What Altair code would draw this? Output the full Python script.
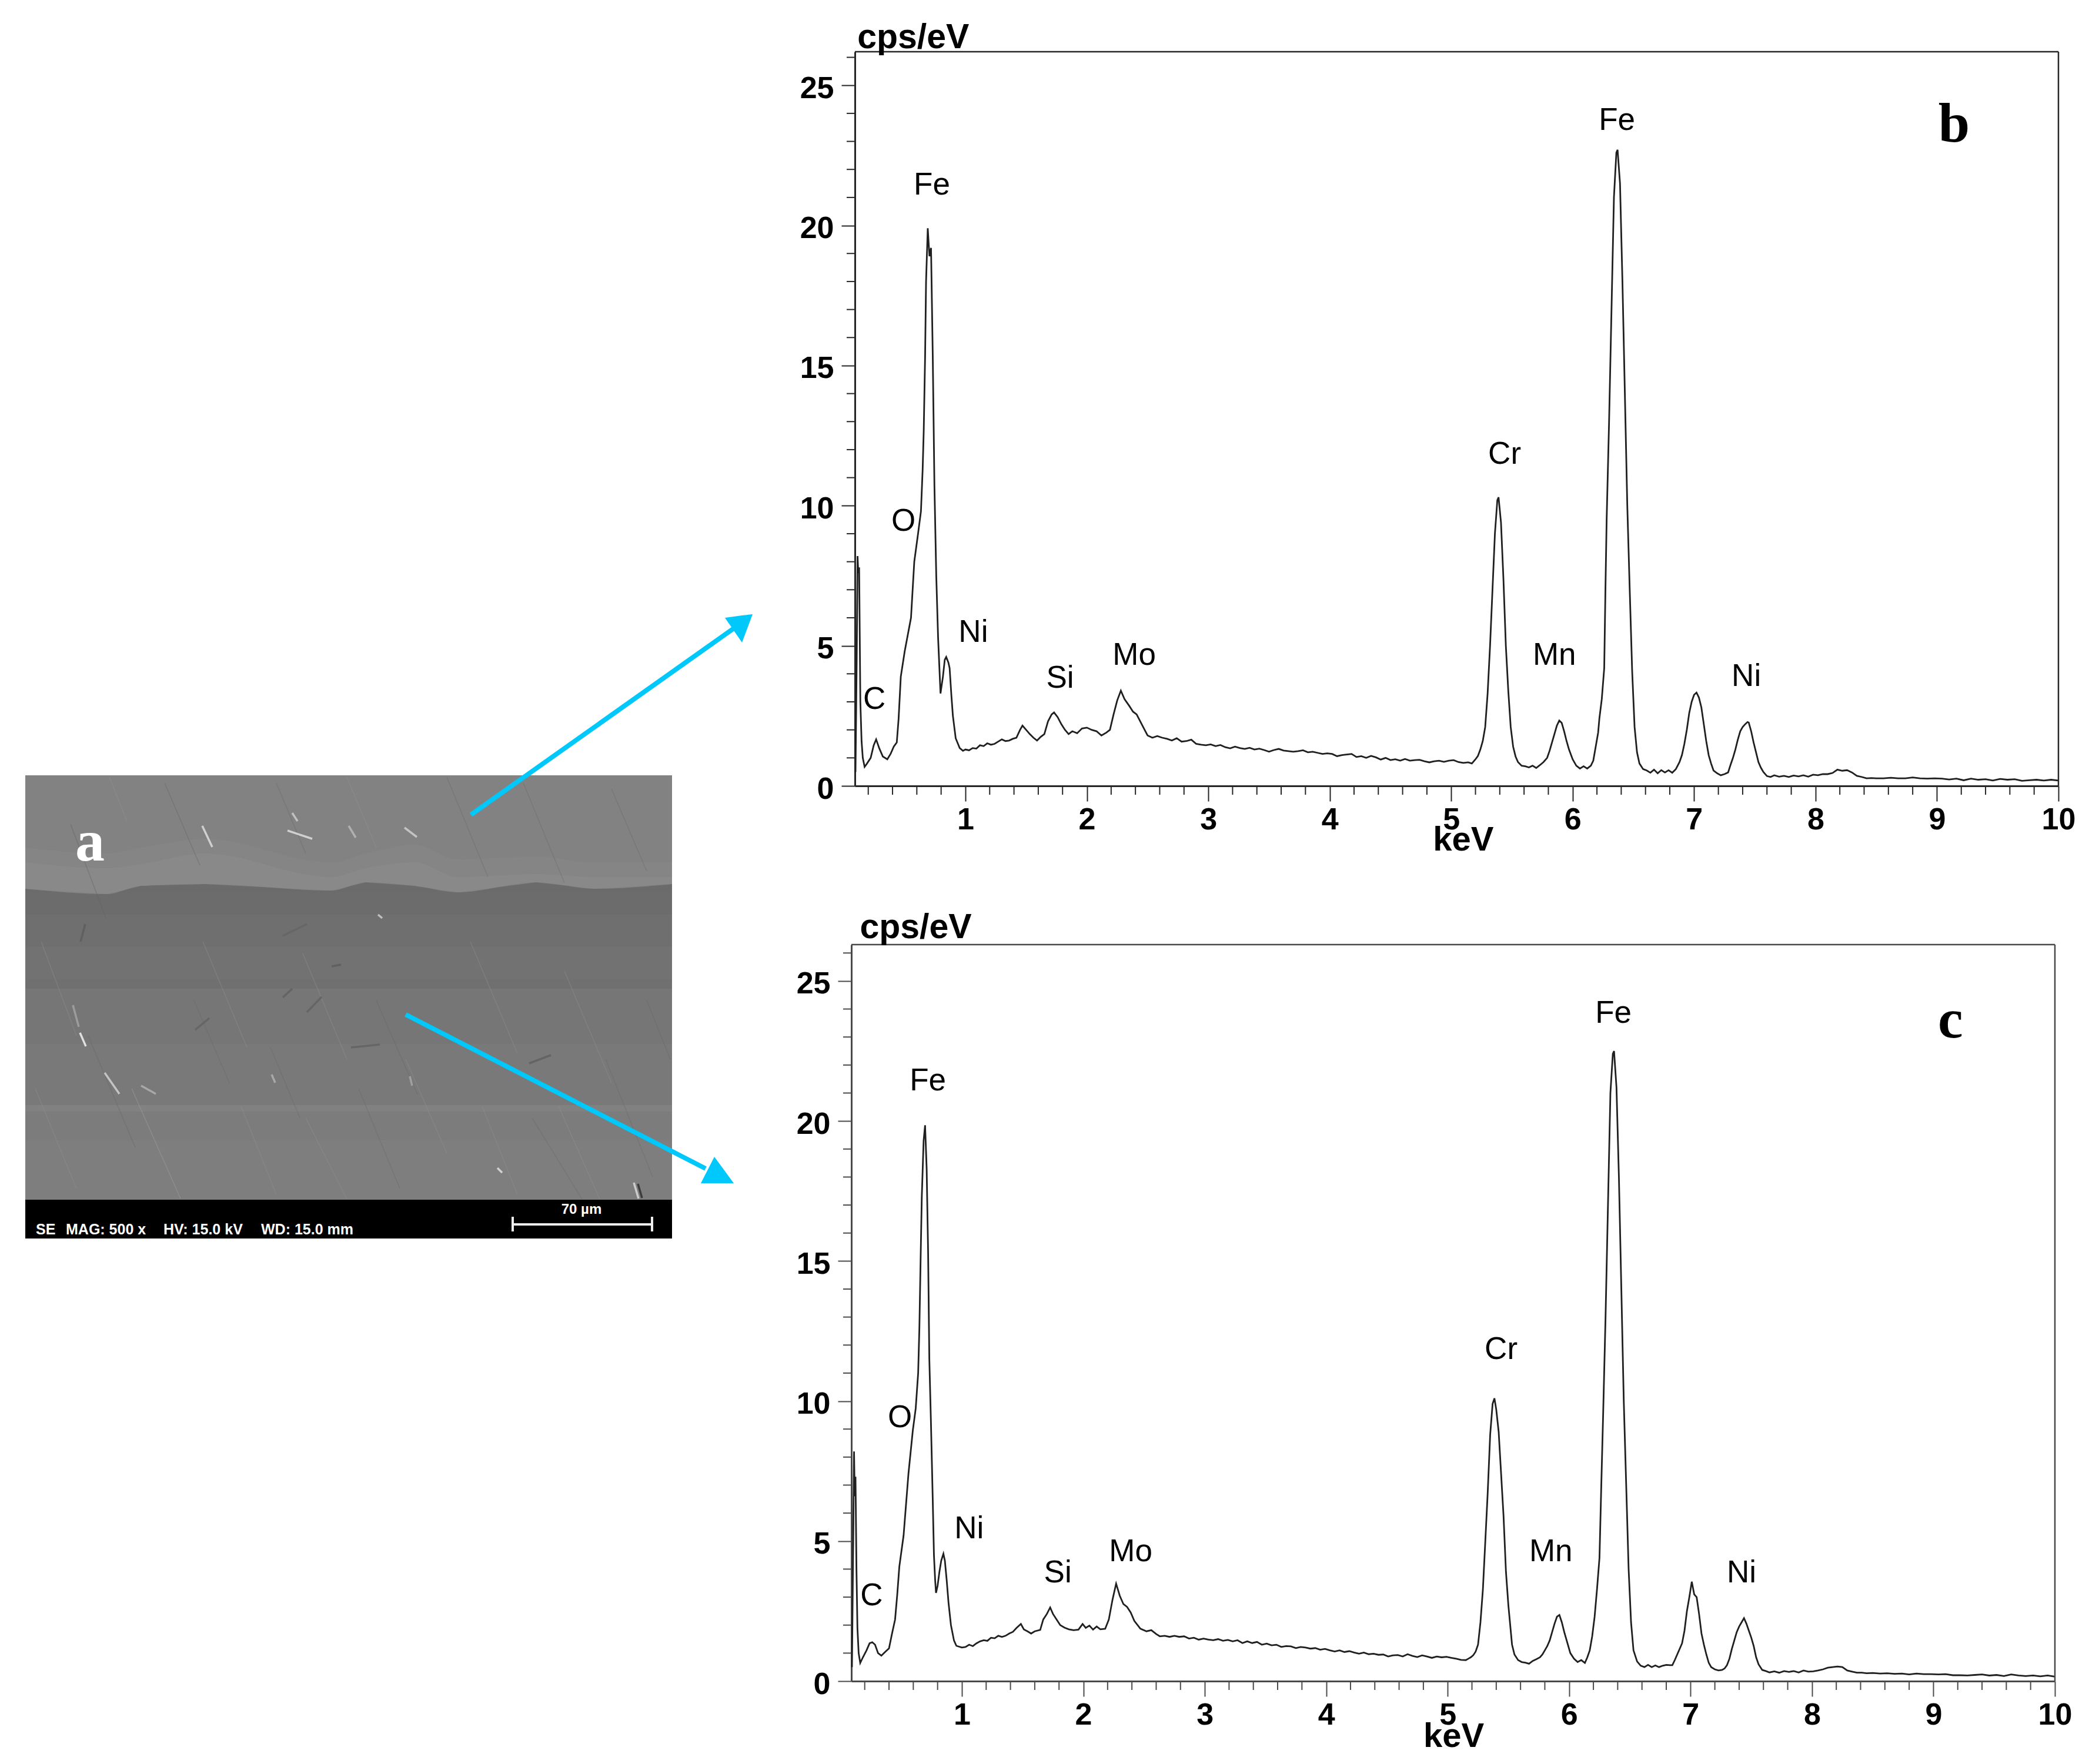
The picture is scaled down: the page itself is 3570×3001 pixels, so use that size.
import altair as alt
import pandas as pd

# spectrum b
kev_b = [
    .095, .105, .112, .118, .125, .135, .145, .155, .17, .19,
    .22, .245, .265, .29, .32, .357, .385, .41, .435, .45,
    .468, .50, .552, .579, .61, .634, .648, .657, .668, .676,
    .69, .704, .717, .731, .745, .76, .775, .795, .815, .83,
    .842, .86, .87, .885, .897, .92, .953, .98, 1.0, 1.03,
    1.06, 1.09, 1.12, 1.15, 1.18, 1.21, 1.24, 1.27, 1.30, 1.33,
    1.36, 1.39, 1.42, 1.45, 1.47, 1.50, 1.53, 1.56, 1.59, 1.62,
    1.65, 1.68, 1.71, 1.73, 1.76, 1.79, 1.82, 1.85, 1.88, 1.92,
    1.96, 2.0, 2.04, 2.08, 2.12, 2.16, 2.19, 2.22, 2.25, 2.28,
    2.31, 2.35, 2.38, 2.41, 2.44, 2.47, 2.5, 2.54, 2.58, 2.62,
    2.66, 2.7, 2.74, 2.78, 2.82, 2.86, 2.9, 2.94, 2.98, 3.02,
    3.06, 3.1, 3.14, 3.18, 3.22, 3.26, 3.3, 3.34, 3.38, 3.42,
    3.46, 3.5, 3.54, 3.58, 3.62, 3.66, 3.7, 3.74, 3.78, 3.82,
    3.86, 3.9, 3.94, 3.98, 4.02, 4.06, 4.1, 4.14, 4.18, 4.22,
    4.26, 4.3, 4.34, 4.38, 4.42, 4.46, 4.5, 4.54, 4.58, 4.62,
    4.66, 4.7, 4.74, 4.78, 4.82, 4.86, 4.9, 4.94, 4.98, 5.02,
    5.06, 5.1, 5.14, 5.17, 5.2, 5.22, 5.24, 5.26, 5.28, 5.3,
    5.32, 5.34, 5.36, 5.38, 5.39, 5.41, 5.43, 5.45, 5.47, 5.49,
    5.51, 5.53, 5.55, 5.58, 5.61, 5.64, 5.67, 5.7, 5.73, 5.76,
    5.79, 5.81, 5.83, 5.85, 5.87, 5.89, 5.91, 5.93, 5.95, 5.97,
    6.0, 6.03, 6.06, 6.09, 6.12, 6.15, 6.17, 6.19, 6.21, 6.22,
    6.24, 6.26, 6.27, 6.28, 6.3, 6.32, 6.34, 6.36, 6.37, 6.39,
    6.41, 6.43, 6.45, 6.46, 6.47, 6.49, 6.51, 6.53, 6.55, 6.58,
    6.61, 6.64, 6.67, 6.7, 6.73, 6.76, 6.79, 6.82, 6.85, 6.88,
    6.9, 6.92, 6.94, 6.96, 6.98, 7.0, 7.02, 7.04, 7.06, 7.08,
    7.1, 7.12, 7.14, 7.16, 7.19, 7.22, 7.25, 7.28, 7.3, 7.32,
    7.34, 7.36, 7.38, 7.4, 7.42, 7.44, 7.45, 7.47, 7.49, 7.51,
    7.53, 7.55, 7.57, 7.6, 7.63, 7.66, 7.7, 7.74, 7.78, 7.82,
    7.86, 7.9, 7.94, 7.98, 8.02, 8.06, 8.1, 8.14, 8.18, 8.22,
    8.26, 8.3, 8.34, 8.38, 8.42, 8.46, 8.5, 8.56, 8.62, 8.68,
    8.74, 8.8, 8.86, 8.92, 8.98, 9.04, 9.1, 9.16, 9.22, 9.28,
    9.34, 9.4, 9.46, 9.52, 9.58, 9.64, 9.7, 9.76, 9.82, 9.88,
    9.94, 10.0,
]
cps_b = [
    .5, 4.5, 8.2, 7.6, 7.8, 3.0, 1.6, 1.0, .68, .8,
    1.0, 1.45, 1.66, 1.35, 1.05, .95, 1.15, 1.4, 1.55, 2.4,
    3.9, 4.8, 6.0, 8.0, 9.0, 9.8, 11.3, 12.7, 15.3, 18.0,
    19.9, 18.9, 19.2, 15.4, 10.7, 7.5, 5.3, 3.3, 3.9, 4.5,
    4.6, 4.4, 4.2, 3.2, 2.5, 1.7, 1.35, 1.25, 1.3, 1.27,
    1.35, 1.33, 1.45, 1.42, 1.52, 1.47, 1.5, 1.58, 1.66, 1.6,
    1.62, 1.68, 1.72, 2.0, 2.15, 2.0, 1.85, 1.72, 1.62, 1.75,
    1.85, 2.3, 2.55, 2.62, 2.45, 2.2, 2.0, 1.85, 1.95, 1.88,
    2.05, 2.08, 2.0, 1.95, 1.8, 1.9, 2.0, 2.55, 3.05, 3.4,
    3.1, 2.85, 2.65, 2.55, 2.3, 2.05, 1.8, 1.72, 1.78, 1.72,
    1.68, 1.62, 1.7, 1.58, 1.6, 1.65, 1.5, 1.47, 1.45, 1.48,
    1.42, 1.46, 1.38, 1.34, 1.4, 1.35, 1.32, 1.36, 1.3, 1.33,
    1.28, 1.22, 1.28, 1.32, 1.26, 1.24, 1.22, 1.24, 1.27, 1.2,
    1.22, 1.18, 1.14, 1.16, 1.14, 1.06, 1.1, 1.12, 1.14, 1.03,
    1.06, 1.0, 1.07, 1.02, .94, 1.0, .92, .95, .9, .96,
    .9, .92, .93, .88, .84, .88, .9, .86, .9, .92,
    .85, .82, .84, .8, .95, 1.07, 1.3, 1.6, 2.1, 3.3,
    5.0, 7.0, 9.0, 10.2, 10.3, 9.4, 7.4, 5.0, 3.4, 2.1,
    1.4, 1.05, .85, .72, .7, .66, .72, .64, .74, .85,
    1.0, 1.25, 1.55, 1.85, 2.15, 2.33, 2.25, 1.95, 1.6, 1.3,
    .95, .72, .62, .7, .62, .72, .9, 1.4, 1.9, 2.4,
    3.1, 4.2, 7.0, 9.5, 13, 17, 21, 22.6, 22.7, 21.5,
    18, 14, 10, 8.5, 7, 4.1, 2.1, 1.2, .8, .6,
    .55, .47, .58, .45, .56, .48, .56, .47, .6, .85,
    1.1, 1.5, 2.0, 2.6, 3.0, 3.25, 3.33, 3.15, 2.8, 2.2,
    1.6, 1.1, .8, .55, .45, .38, .42, .48, .75, 1.0,
    1.3, 1.65, 1.95, 2.1, 2.2, 2.28, 2.26, 1.95, 1.55, 1.2,
    .85, .65, .5, .35, .32, .38, .33, .36, .32, .37,
    .34, .38, .33, .4, .38, .42, .42, .46, .58, .54,
    .56, .48, .36, .32, .27, .28, .27, .27, .29, .27,
    .27, .3, .27, .26, .27, .26, .23, .26, .2, .26,
    .22, .24, .19, .25, .22, .24, .18, .2, .22, .19,
    .22, .19,
]

# spectrum c
kev_c = [
    .095, .105, .112, .118, .124, .132, .14, .15, .163, .185,
    .215, .24, .262, .285, .31, .337, .37, .40, .425, .45,
    .468, .485, .52, .56, .596, .62, .64, .65, .66, .67,
    .685, .697, .71, .722, .732, .745, .76, .77, .78, .787,
    .8, .815, .83, .848, .86, .875, .89, .91, .935, .955,
    1.0, 1.03, 1.06, 1.09, 1.12, 1.15, 1.18, 1.21, 1.24, 1.27,
    1.3, 1.33, 1.36, 1.39, 1.42, 1.45, 1.486, 1.51, 1.54, 1.57,
    1.6, 1.645, 1.67, 1.7, 1.727, 1.75, 1.78, 1.81, 1.845, 1.88,
    1.92, 1.96, 1.994, 2.02, 2.05, 2.08, 2.11, 2.14, 2.18, 2.21,
    2.24, 2.27, 2.3, 2.33, 2.36, 2.39, 2.42, 2.47, 2.52, 2.56,
    2.6, 2.63, 2.67, 2.71, 2.75, 2.79, 2.83, 2.87, 2.91, 2.95,
    2.99, 3.03, 3.07, 3.11, 3.15, 3.19, 3.23, 3.27, 3.31, 3.35,
    3.39, 3.43, 3.47, 3.51, 3.55, 3.59, 3.63, 3.67, 3.71, 3.75,
    3.79, 3.83, 3.87, 3.91, 3.95, 3.99, 4.03, 4.07, 4.11, 4.15,
    4.19, 4.23, 4.27, 4.31, 4.35, 4.39, 4.43, 4.47, 4.51, 4.55,
    4.59, 4.63, 4.67, 4.71, 4.75, 4.79, 4.83, 4.87, 4.91, 4.95,
    4.99, 5.03, 5.07, 5.11, 5.15, 5.17, 5.19, 5.21, 5.23, 5.25,
    5.27, 5.29, 5.31, 5.33, 5.35, 5.37, 5.385, 5.4, 5.42, 5.44,
    5.46, 5.48, 5.5, 5.53, 5.55, 5.58, 5.61, 5.64, 5.67, 5.7,
    5.73, 5.76, 5.78, 5.8, 5.82, 5.84, 5.86, 5.88, 5.9, 5.92,
    5.94, 5.96, 5.98, 6.01, 6.04, 6.07, 6.1, 6.13, 6.15, 6.17,
    6.19, 6.21, 6.23, 6.25, 6.265, 6.28, 6.3, 6.32, 6.34, 6.36,
    6.37, 6.39, 6.41, 6.43, 6.45, 6.46, 6.47, 6.49, 6.51, 6.53,
    6.56, 6.59, 6.62, 6.65, 6.68, 6.71, 6.74, 6.77, 6.8, 6.83,
    6.85, 6.87, 6.89, 6.91, 6.93, 6.95, 6.97, 6.99, 7.01, 7.03,
    7.05, 7.07, 7.09, 7.11, 7.13, 7.15, 7.17, 7.2, 7.23, 7.26,
    7.28, 7.3, 7.32, 7.34, 7.36, 7.38, 7.4, 7.42, 7.44, 7.46,
    7.48, 7.5, 7.52, 7.54, 7.56, 7.59, 7.62, 7.65, 7.69, 7.73,
    7.77, 7.81, 7.85, 7.89, 7.93, 7.97, 8.01, 8.05, 8.09, 8.13,
    8.17, 8.21, 8.25, 8.29, 8.33, 8.37, 8.41, 8.45, 8.5, 8.56,
    8.62, 8.68, 8.74, 8.8, 8.86, 8.92, 8.98, 9.04, 9.1, 9.16,
    9.22, 9.28, 9.34, 9.4, 9.46, 9.52, 9.58, 9.64, 9.7, 9.76,
    9.82, 9.88, 9.94, 10.0,
]
cps_c = [
    .5, 4.9, 8.2, 6.6, 7.3, 4.0, 1.9, 1.0, .65, .85,
    1.1, 1.35, 1.39, 1.3, 1.0, .91, 1.05, 1.17, 1.7, 2.2,
    3.1, 4.09, 5.2, 7.4, 8.95, 9.74, 11.0, 12.6, 15, 17.3,
    19.3, 19.85, 18.3, 15.3, 11.5, 9.3, 6.5, 4.5, 3.6, 3.15,
    3.4, 3.9, 4.3, 4.55, 4.3, 3.6, 2.8, 2.0, 1.45, 1.26,
    1.2, 1.22, 1.3, 1.25, 1.35, 1.42, 1.46, 1.44, 1.55, 1.53,
    1.62, 1.58, 1.62, 1.7, 1.76, 1.9, 2.04, 1.85, 1.78, 1.7,
    1.78, 1.83, 2.2, 2.4, 2.63, 2.4, 2.2, 2.0, 1.91, 1.85,
    1.82, 1.84, 2.04, 1.9, 1.98, 1.84, 1.95, 1.85, 1.87, 2.2,
    2.9, 3.48, 3.05, 2.75, 2.65, 2.45, 2.15, 1.87, 1.78, 1.82,
    1.68, 1.6, 1.62, 1.58, 1.62, 1.58, 1.6, 1.52, 1.55, 1.48,
    1.52, 1.48, 1.46, 1.5, 1.44, 1.47, 1.42, 1.46, 1.36, 1.42,
    1.36, 1.4, 1.3, 1.34, 1.28, 1.3, 1.22, 1.25, 1.24, 1.18,
    1.22, 1.2, 1.16, 1.18, 1.12, 1.15, 1.1, 1.06, 1.1, 1.04,
    1.07, 1.02, .98, 1.02, .96, .98, .94, .95, .88, .92,
    .93, .88, .96, .9, .86, .92, .88, .83, .88, .85,
    .87, .83, .8, .76, .75, .8, .85, .92, 1.05, 1.3,
    2.1, 3.27, 5.0, 6.76, 8.8, 9.9, 10.1, 9.7, 8.9, 7.4,
    5.9, 3.9, 2.7, 1.3, .95, .75, .68, .66, .62, .72,
    .78, .85, .95, 1.1, 1.25, 1.45, 1.75, 2.05, 2.3, 2.36,
    2.1, 1.75, 1.45, 1.0, .8, .68, .75, .65, .85, 1.1,
    1.6, 2.3, 3.3, 4.4, 7.0, 9.5, 13, 17, 21, 22.4,
    22.5, 21.2, 18, 14, 10, 8.5, 7, 4, 2.1, 1.1,
    .7, .55, .5, .58, .5, .56, .5, .55, .58, .57,
    .57, .75, .95, 1.15, 1.35, 1.8, 2.5, 3.0, 3.55, 3.1,
    3.0, 2.4, 1.7, 1.3, .95, .65, .5, .42, .38, .4,
    .45, .57, .8, 1.15, 1.45, 1.75, 1.95, 2.1, 2.25, 2.05,
    1.8, 1.55, 1.25, .85, .6, .4, .36, .31, .35, .3,
    .36, .33, .36, .31, .38, .34, .35, .38, .42, .48,
    .5, .52, .5, .38, .34, .3, .3, .28, .29, .27,
    .28, .26, .27, .24, .27, .25, .25, .24, .25, .21,
    .21, .2, .22, .24, .2, .22, .18, .24, .2, .18,
    .2, .17, .2, .16,
]

# element labels
elements = ['Fe', 'O', 'Ni', 'C', 'Si', 'Mo', 'Cr', 'Mn', 'Fe', 'Ni']
label_kev_b = [.724, .49, 1.065, .25, 1.78, 2.39, 5.44, 5.85, 6.365, 7.43]
label_cps_b = [21.5, 9.5, 5.54, 3.15, 3.91, 4.73, 11.9, 4.73, 23.8, 3.96]
label_kev_c = [.72, .49, 1.06, .256, 1.79, 2.39, 5.44, 5.85, 6.365, 7.42]
label_cps_c = [21.5, 9.47, 5.5, 3.1, 3.92, 4.69, 11.9, 4.69, 23.9, 3.92]

major_kev = [1, 2, 3, 4, 5, 6, 7, 8, 9, 10]
minor_kev = [.2, .4, .6, .8, 1.2, 1.4, 1.6, 1.8, 2.2, 2.4, 2.6, 2.8, 3.2, 3.4, 3.6, 3.8,
             4.2, 4.4, 4.6, 4.8, 5.2, 5.4, 5.6, 5.8, 6.2, 6.4, 6.6, 6.8, 7.2, 7.4, 7.6, 7.8,
             8.2, 8.4, 8.6, 8.8, 9.2, 9.4, 9.6, 9.8]
major_cps = [0, 5, 10, 15, 20, 25]
minor_cps = [1, 2, 3, 4, 6, 7, 8, 9, 11, 12, 13, 14, 16, 17, 18, 19, 21, 22, 23, 24, 26]

# SEM photo (panel a), in pixels of the page
band_top = [1317, 1505, 1516, 1554, 1609, 1664, 1680, 1774, 1878, 1889, 1938]
band_bot = [1505, 1516, 1554, 1609, 1664, 1680, 1774, 1878, 1889, 1938, 2039]
band_col = ['#6b6b6b', '#6b6b6b', '#6c6c6c', '#6f6f6f', '#727272', '#707070', '#767676', '#797979',
            '#818181', '#7c7c7c', '#7e7e7e']
edge_x = [43, 182, 240, 348, 564, 622, 705, 779, 912, 1012, 1143]
edge_y = [1510, 1519, 1505, 1502, 1513, 1499, 1505, 1516, 1499, 1510, 1502]
glow_y = [1465, 1475, 1468, 1450, 1490, 1475, 1465, 1490, 1485, 1490, 1490]
fade_y = [1440, 1450, 1440, 1425, 1465, 1450, 1435, 1460, 1455, 1465, 1465]

scratch_x1 = [186, 120, 70, 280, 345, 470, 515, 590, 640, 760, 800, 890, 960, 1040, 1100,
              224, 150, 410, 460, 520, 610, 690, 820, 905, 60, 330, 950, 1030]
scratch_y1 = [1320, 1400, 1600, 1330, 1600, 1330, 1620, 1320, 1700, 1320, 1600, 1330, 1650, 1340, 1700,
              1850, 1760, 1880, 1780, 1900, 1850, 1800, 1880, 1900, 1850, 1700, 1880, 1800]
scratch_x2 = [216, 180, 130, 340, 420, 520, 590, 640, 710, 830, 880, 960, 1040, 1100, 1140,
              307, 230, 470, 510, 590, 680, 760, 880, 990, 130, 390, 1020, 1110]
scratch_y2 = [1395, 1560, 1760, 1470, 1780, 1450, 1800, 1440, 1860, 1490, 1790, 1500, 1840, 1480, 1800,
              2037, 1950, 2030, 1900, 2038, 2020, 1960, 2030, 2038, 2020, 1840, 2038, 2000]
scratch_col = ['#949494', '#626262', '#909090', '#626262', '#929292', '#686868', '#909090', '#949494',
               '#666666', '#686868', '#909090', '#6a6a6a', '#909090', '#6a6a6a', '#666666',
               '#a4a4a4', '#666666', '#929292', '#6a6a6a', '#909090', '#6a6a6a', '#909090',
               '#909090', '#6a6a6a', '#909090', '#6a6a6a', '#949494', '#6a6a6a']

speck_x1 = [344, 489, 497, 593, 688, 643, 124, 136, 178, 240, 697, 462, 846, 1078,
            145, 900, 481, 564, 481, 522, 597, 332, 1085]
speck_y1 = [1403, 1411, 1381, 1403, 1406, 1554, 1708, 1755, 1823, 1845, 1829, 1826, 1985, 2010,
            1570, 1807, 1590, 1642, 1695, 1720, 1780, 1750, 2012]
speck_x2 = [361, 531, 506, 605, 709, 650, 134, 146, 203, 265, 701, 468, 854, 1086,
            137, 937, 522, 580, 497, 547, 646, 356, 1092]
speck_y2 = [1439, 1425, 1395, 1423, 1422, 1560, 1745, 1778, 1859, 1859, 1845, 1840, 1993, 2037,
            1600, 1793, 1570, 1639, 1680, 1694, 1775, 1730, 2036]
speck_col = ['#d0d0d0', '#d0d0d0', '#c0c0c0', '#b0b0b0', '#c4c4c4', '#c0c0c0', '#9c9c9c', '#e0e0e0',
             '#c4c4c4', '#a8a8a8', '#a0a0a0', '#a8a8a8', '#d0d0d0', '#cccccc',
             '#606060', '#646464', '#666666', '#606060', '#646464', '#666666', '#666666', '#666666', '#3c3c3c']

bar_text = ['SE', 'MAG: 500 x', 'HV: 15.0 kV', 'WD: 15.0 mm']
bar_text_x = [61, 112, 278, 444]

FONT = 'Liberation Sans'
LINE = '#1f1f1f'

left_x = alt.Scale(domain=[8, 1448], nice=False, zero=False)
left_y = alt.Scale(domain=[2386, 86], nice=False, zero=False)


def lx(name):
    return alt.X(name, type='quantitative', scale=left_x, axis=None)


def ly(name):
    return alt.Y(name, type='quantitative', scale=left_y, axis=None)


def segments(x1, y1, x2, y2, col, width, opacity=1):
    df = pd.DataFrame({'x1': x1, 'y1': y1, 'x2': x2, 'y2': y2, 'col': col})
    return alt.Chart(df).mark_rule(strokeWidth=width, opacity=opacity).encode(
        x=lx('x1'), y=ly('y1'), x2='x2', y2='y2',
        color=alt.Color('col:N', scale=None))


# photo
bands = alt.Chart(pd.DataFrame({'x1': 43, 'x2': 1143, 'y1': band_top, 'y2': band_bot, 'col': band_col})).mark_rect().encode(
    x=lx('x1'), x2='x2', y=ly('y1'), y2='y2', color=alt.Color('col:N', scale=None))
edge_df = pd.DataFrame({'x': edge_x, 'edge': edge_y, 'glow': glow_y, 'fade': fade_y, 'top': 1317})
light = alt.Chart(edge_df).mark_area(color='#828282', opacity=1).encode(x=lx('x'), y=ly('top'), y2='edge')
fade = alt.Chart(edge_df).mark_area(color='#8a8a8a', opacity=.4, interpolate='monotone').encode(x=lx('x'), y=ly('fade'), y2='edge')
glow = alt.Chart(edge_df).mark_area(color='#8c8c8c', opacity=.6, interpolate='monotone').encode(x=lx('x'), y=ly('glow'), y2='edge')
scratches = segments(scratch_x1, scratch_y1, scratch_x2, scratch_y2, scratch_col, 1.5, .4)
specks = segments(speck_x1, speck_y1, speck_x2, speck_y2, speck_col, 3.5)

black = alt.Chart(pd.DataFrame({'x1': [43], 'x2': [1143], 'y1': [2039], 'y2': [2105]})).mark_rect(color='black').encode(
    x=lx('x1'), x2='x2', y=ly('y1'), y2='y2')
info = alt.Chart(pd.DataFrame({'t': bar_text, 'x': bar_text_x, 'y': 2090})).mark_text(
    font=FONT, fontSize=25, fontWeight='bold', color='white', align='left', baseline='middle').encode(
    x=lx('x'), y=ly('y'), text='t:N')
micron = alt.Chart(pd.DataFrame({'t': ['70 µm'], 'x': [989], 'y': [2056]})).mark_text(
    font=FONT, fontSize=24, fontWeight='bold', color='white', baseline='middle').encode(
    x=lx('x'), y=ly('y'), text='t:N')
scale_bar = segments([872, 872, 1109], [2081, 2068, 2068], [1109, 872, 1109], [2081, 2093, 2093],
                     ['#eeeeee', '#eeeeee', '#eeeeee'], 4)
letter_a = alt.Chart(pd.DataFrame({'t': ['a'], 'x': [153], 'y': [1432]})).mark_text(
    font='Liberation Serif', fontSize=100, fontWeight='bold', color='white', baseline='middle').encode(
    x=lx('x'), y=ly('y'), text='t:N')

# arrows
CYAN = '#00c8fb'
arrow_lines = segments([801, 690], [1384, 1724], [1255, 1200], [1062, 1986], [CYAN, CYAN], 8)
head_b = alt.Chart(pd.DataFrame({'x': [1233, 1262, 1280], 'y1': [1049, 1045, 1043], 'y2': [1049, 1091, 1043]})).mark_area(
    color=CYAN, opacity=1).encode(x=lx('x'), y=ly('y1'), y2='y2')
head_c = alt.Chart(pd.DataFrame({'x': [1192, 1215, 1248], 'y1': [2011, 1966, 2011], 'y2': [2011, 2011, 2011]})).mark_area(
    color=CYAN, opacity=1).encode(x=lx('x'), y=ly('y1'), y2='y2')

panel_a = alt.layer(bands, light, fade, glow, scratches, specks, black, info, micron, scale_bar, letter_a,
                    arrow_lines, head_b, head_c).properties(width=1440, height=2300)


def spectrum(kev, cps, label_kev, label_cps, ymax, height, left, unit_xy, kev_xy, letter, letter_xy, frame):
    xs = alt.Scale(domain=[.09, 10], range=[left, left + 2047], nice=False, zero=False)
    ys = alt.Scale(domain=[0, ymax], nice=False, zero=False)
    x_ax = alt.Axis(title=None, values=major_kev, grid=False, tickSize=26, tickWidth=2, tickColor=frame,
                    domainColor=frame, domainWidth=3, labelFont=FONT, labelFontSize=52, labelFontWeight='bold',
                    labelColor='black', labelPadding=6, labelFlush=False, labelOverlap=False, format='d')
    y_ax = alt.Axis(title=None, values=major_cps, grid=False, tickSize=23, tickWidth=2, tickColor=frame,
                    domainColor=frame, domainWidth=3, labelFont=FONT, labelFontSize=52, labelFontWeight='bold',
                    labelColor='black', labelPadding=13, labelFlush=False, labelOverlap=False, format='d',
                    labelOffset=5, offset=-left)

    line = alt.Chart(pd.DataFrame({'kev': kev, 'cps': cps})).mark_line(color=LINE, strokeWidth=2.8).encode(
        x=alt.X('kev:Q', scale=xs, axis=x_ax), y=alt.Y('cps:Q', scale=ys, axis=y_ax))

    x_minor = alt.Chart(pd.DataFrame({'kev': minor_kev})).mark_rule(color=frame, strokeWidth=2).encode(
        x=alt.X('kev:Q', scale=xs), y=alt.value(height), y2=alt.value(height + 15))
    y_minor = alt.Chart(pd.DataFrame({'cps': minor_cps})).mark_rule(color=frame, strokeWidth=2).encode(
        y=alt.Y('cps:Q', scale=ys), x=alt.value(left - 14), x2=alt.value(left))
    top_line = alt.Chart(pd.DataFrame({'a': [.09], 'b': [10]})).mark_rule(color=frame, strokeWidth=2.5).encode(
        x=alt.X('a:Q', scale=xs), x2='b', y=alt.value(0))
    right_line = alt.Chart(pd.DataFrame({'a': [10]})).mark_rule(color=frame, strokeWidth=2.5).encode(
        x=alt.X('a:Q', scale=xs), y=alt.value(0), y2=alt.value(height))

    labels = alt.Chart(pd.DataFrame({'t': elements, 'kev': label_kev, 'cps': label_cps})).mark_text(
        font=FONT, fontSize=53, color='black', baseline='middle', dy=3).encode(
        x=alt.X('kev:Q', scale=xs), y=alt.Y('cps:Q', scale=ys), text='t:N')
    unit = alt.Chart(pd.DataFrame({'t': ['cps/eV'], 'kev': [unit_xy[0]], 'cps': [unit_xy[1]]})).mark_text(
        font=FONT, fontSize=59, fontWeight='bold', color='black', align='left', baseline='middle').encode(
        x=alt.X('kev:Q', scale=xs), y=alt.Y('cps:Q', scale=ys), text='t:N')
    kev_title = alt.Chart(pd.DataFrame({'t': ['keV'], 'kev': [kev_xy[0]], 'cps': [kev_xy[1]]})).mark_text(
        font=FONT, fontSize=58, fontWeight='bold', color='black', baseline='middle').encode(
        x=alt.X('kev:Q', scale=xs), y=alt.Y('cps:Q', scale=ys), text='t:N')
    tag = alt.Chart(pd.DataFrame({'t': [letter], 'kev': [letter_xy[0]], 'cps': [letter_xy[1]]})).mark_text(
        font='Liberation Serif', fontSize=96, fontWeight='bold', color='black', baseline='middle').encode(
        x=alt.X('kev:Q', scale=xs), y=alt.Y('cps:Q', scale=ys), text='t:N')

    return alt.layer(line, x_minor, y_minor, top_line, right_line, labels, unit, kev_title, tag).properties(
        width=2053, height=height)


panel_b = spectrum(kev_b, cps_b, label_kev_b, label_cps_b, 26.2, 1249, 6,
                   (.11, 26.7), (5.1, -1.95), 'b', (9.14, 23.6), '#262626')
panel_c = spectrum(kev_c, cps_c, label_kev_c, label_cps_c, 26.3, 1253, 0,
                   (.16, 26.9), (5.05, -2.0), 'c', (9.14, 23.6), '#4a4a4a')

right = alt.vconcat(panel_b, panel_c, spacing=270, bounds='flush')
chart = alt.hconcat(panel_a, right, spacing=0, bounds='flush').properties(
    padding={'left': 0, 'top': 27, 'right': 0, 'bottom': 0}
).configure_view(stroke=None).properties(background='white')

chart.save("out.html", embed_options={"renderer": "svg", "actions": False})
